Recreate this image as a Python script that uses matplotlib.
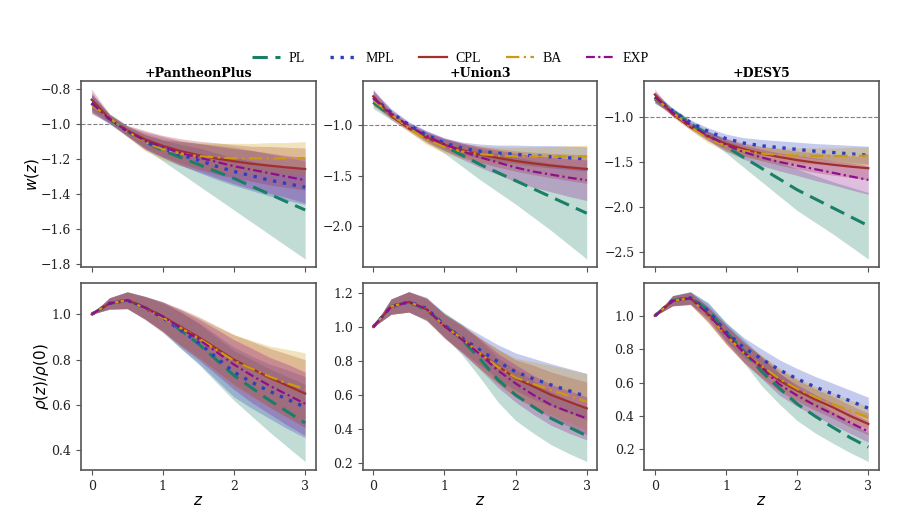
import numpy as np
import matplotlib
matplotlib.use("Agg")
import matplotlib.pyplot as plt
from matplotlib.font_manager import FontProperties

# ---------------- data ----------------
Z = [0.0, 0.25, 0.5, 0.75, 1.0, 1.25, 1.5, 1.75, 2.0, 2.25, 2.5, 2.75, 3.0]
MODELS = ["PL", "MPL", "CPL", "BA", "EXP"]
DATASETS = ["+PantheonPlus", "+Union3", "+DESY5"]

# w(z) : PantheonPlus
W_PP_PL = [-0.88, -0.97, -1.04, -1.10, -1.15, -1.19, -1.23, -1.27, -1.31, -1.355, -1.40, -1.445, -1.49]
W_PP_MPL = [-0.88, -0.97, -1.04, -1.10, -1.14, -1.175, -1.205, -1.24, -1.27, -1.295, -1.32, -1.34, -1.36]
W_PP_CPL = [-0.86, -0.966, -1.036, -1.086, -1.124, -1.153, -1.177, -1.196, -1.212, -1.226, -1.237, -1.247, -1.256]
W_PP_BA = [-0.89, -0.964, -1.042, -1.103, -1.143, -1.168, -1.182, -1.19, -1.194, -1.195, -1.195, -1.195, -1.194]
W_PP_EXP = [-0.88, -0.97, -1.04, -1.095, -1.13, -1.165, -1.19, -1.215, -1.24, -1.26, -1.28, -1.30, -1.32]
W_PP_PL_ERR = [0.05, 0.03, 0.03, 0.04, 0.06, 0.09, 0.12, 0.15, 0.18, 0.205, 0.23, 0.255, 0.28]
W_PP_MPL_ERR = [0.05, 0.025, 0.025, 0.04, 0.05, 0.06, 0.07, 0.075, 0.08, 0.085, 0.09, 0.095, 0.10]
W_PP_CPL_ERR = [0.06, 0.025, 0.03, 0.05, 0.06, 0.07, 0.08, 0.09, 0.095, 0.10, 0.11, 0.115, 0.12]
W_PP_BA_ERR = [0.05, 0.02, 0.03, 0.05, 0.06, 0.07, 0.075, 0.08, 0.085, 0.085, 0.09, 0.09, 0.095]
W_PP_EXP_ERR = [0.06, 0.025, 0.03, 0.05, 0.06, 0.07, 0.08, 0.09, 0.10, 0.11, 0.115, 0.12, 0.13]

# w(z) : Union3
W_U3_PL = [-0.78, -0.91, -1.02, -1.12, -1.21, -1.30, -1.39, -1.47, -1.55, -1.63, -1.71, -1.79, -1.87]
W_U3_MPL = [-0.73, -0.88, -1.00, -1.10, -1.18, -1.23, -1.26, -1.28, -1.29, -1.305, -1.315, -1.325, -1.335]
W_U3_CPL = [-0.72, -0.911, -1.037, -1.128, -1.197, -1.25, -1.292, -1.326, -1.356, -1.38, -1.401, -1.419, -1.435]
W_U3_BA = [-0.76, -0.895, -1.035, -1.145, -1.218, -1.263, -1.289, -1.303, -1.31, -1.313, -1.313, -1.312, -1.31]
W_U3_EXP = [-0.74, -0.89, -1.01, -1.11, -1.19, -1.26, -1.32, -1.37, -1.42, -1.46, -1.49, -1.52, -1.545]
W_U3_PL_ERR = [0.06, 0.04, 0.03, 0.05, 0.07, 0.11, 0.15, 0.19, 0.23, 0.28, 0.33, 0.39, 0.45]
W_U3_MPL_ERR = [0.07, 0.04, 0.03, 0.04, 0.05, 0.06, 0.07, 0.08, 0.09, 0.10, 0.11, 0.115, 0.12]
W_U3_CPL_ERR = [0.07, 0.04, 0.03, 0.05, 0.06, 0.07, 0.08, 0.09, 0.10, 0.11, 0.12, 0.13, 0.14]
W_U3_BA_ERR = [0.06, 0.035, 0.03, 0.05, 0.06, 0.07, 0.08, 0.085, 0.09, 0.095, 0.10, 0.105, 0.11]
W_U3_EXP_ERR = [0.07, 0.04, 0.03, 0.05, 0.06, 0.08, 0.10, 0.12, 0.14, 0.155, 0.17, 0.185, 0.20]

# w(z) : DESY5
W_D5_PL = [-0.80, -0.93, -1.07, -1.20, -1.33, -1.45, -1.57, -1.69, -1.81, -1.91, -2.01, -2.11, -2.21]
W_D5_MPL = [-0.78, -0.93, -1.06, -1.16, -1.24, -1.29, -1.32, -1.34, -1.36, -1.38, -1.395, -1.41, -1.425]
W_D5_CPL = [-0.75, -0.969, -1.114, -1.218, -1.297, -1.358, -1.406, -1.445, -1.479, -1.507, -1.531, -1.552, -1.57]
W_D5_BA = [-0.79, -0.947, -1.11, -1.238, -1.323, -1.376, -1.406, -1.422, -1.43, -1.433, -1.434, -1.432, -1.43]
W_D5_EXP = [-0.78, -0.95, -1.09, -1.21, -1.31, -1.39, -1.45, -1.50, -1.54, -1.58, -1.62, -1.66, -1.70]
W_D5_PL_ERR = [0.05, 0.03, 0.03, 0.05, 0.07, 0.11, 0.15, 0.19, 0.23, 0.26, 0.29, 0.33, 0.37]
W_D5_MPL_ERR = [0.06, 0.03, 0.03, 0.04, 0.05, 0.06, 0.07, 0.075, 0.08, 0.085, 0.09, 0.095, 0.10]
W_D5_CPL_ERR = [0.06, 0.03, 0.03, 0.05, 0.06, 0.07, 0.08, 0.09, 0.10, 0.11, 0.115, 0.12, 0.13]
W_D5_BA_ERR = [0.05, 0.03, 0.03, 0.05, 0.06, 0.07, 0.075, 0.08, 0.085, 0.09, 0.09, 0.095, 0.10]
W_D5_EXP_ERR = [0.06, 0.03, 0.03, 0.05, 0.07, 0.08, 0.09, 0.10, 0.11, 0.125, 0.135, 0.15, 0.16]

# rho(z)/rho(0) : PantheonPlus
R_PP_PL = [1.0, 1.048, 1.062, 1.03, 0.99, 0.93, 0.87, 0.80, 0.73, 0.675, 0.62, 0.57, 0.52]
R_PP_MPL = [1.0, 1.048, 1.062, 1.028, 0.985, 0.93, 0.875, 0.81, 0.745, 0.70, 0.66, 0.625, 0.59]
R_PP_CPL = [1.0, 1.048, 1.063, 1.03, 0.99, 0.945, 0.90, 0.85, 0.80, 0.76, 0.72, 0.685, 0.65]
R_PP_BA = [1.0, 1.048, 1.062, 1.026, 0.985, 0.94, 0.895, 0.845, 0.795, 0.76, 0.725, 0.695, 0.67]
R_PP_EXP = [1.0, 1.048, 1.062, 1.028, 0.99, 0.94, 0.89, 0.835, 0.778, 0.73, 0.685, 0.645, 0.605]
R_PP_PL_ERR = [0.0, 0.025, 0.037, 0.05, 0.065, 0.08, 0.09, 0.10, 0.11, 0.125, 0.14, 0.155, 0.17]
R_PP_MPL_ERR = [0.0, 0.025, 0.037, 0.05, 0.065, 0.08, 0.09, 0.10, 0.11, 0.115, 0.12, 0.13, 0.135]
R_PP_CPL_ERR = [0.0, 0.025, 0.037, 0.05, 0.065, 0.08, 0.09, 0.10, 0.11, 0.12, 0.13, 0.14, 0.15]
R_PP_BA_ERR = [0.0, 0.025, 0.037, 0.05, 0.065, 0.08, 0.09, 0.10, 0.115, 0.125, 0.135, 0.15, 0.16]
R_PP_EXP_ERR = [0.0, 0.025, 0.037, 0.05, 0.065, 0.08, 0.09, 0.10, 0.11, 0.12, 0.125, 0.135, 0.14]

# rho(z)/rho(0) : Union3
R_U3_PL = [1.0, 1.12, 1.148, 1.10, 1.015, 0.925, 0.812, 0.69, 0.60, 0.53, 0.462, 0.41, 0.36]
R_U3_MPL = [1.0, 1.12, 1.148, 1.11, 1.01, 0.935, 0.865, 0.796, 0.737, 0.695, 0.659, 0.625, 0.59]
R_U3_CPL = [1.0, 1.12, 1.148, 1.105, 1.005, 0.93, 0.845, 0.77, 0.698, 0.65, 0.60, 0.56, 0.521]
R_U3_BA = [1.0, 1.12, 1.148, 1.105, 1.005, 0.93, 0.845, 0.766, 0.702, 0.665, 0.629, 0.595, 0.56]
R_U3_EXP = [1.0, 1.12, 1.148, 1.105, 1.005, 0.925, 0.84, 0.745, 0.668, 0.60, 0.541, 0.50, 0.462]
R_U3_PL_ERR = [0.0, 0.045, 0.06, 0.065, 0.07, 0.09, 0.11, 0.13, 0.15, 0.155, 0.155, 0.155, 0.152]
R_U3_MPL_ERR = [0.0, 0.045, 0.06, 0.065, 0.07, 0.08, 0.09, 0.10, 0.11, 0.12, 0.125, 0.13, 0.137]
R_U3_CPL_ERR = [0.0, 0.045, 0.06, 0.065, 0.07, 0.08, 0.09, 0.10, 0.11, 0.125, 0.135, 0.145, 0.155]
R_U3_BA_ERR = [0.0, 0.045, 0.06, 0.065, 0.07, 0.08, 0.09, 0.10, 0.115, 0.13, 0.145, 0.155, 0.165]
R_U3_EXP_ERR = [0.0, 0.045, 0.06, 0.065, 0.07, 0.08, 0.09, 0.10, 0.11, 0.115, 0.12, 0.125, 0.127]

# rho(z)/rho(0) : DESY5
R_D5_PL = [1.0, 1.092, 1.108, 1.035, 0.905, 0.79, 0.667, 0.567, 0.473, 0.40, 0.333, 0.27, 0.214]
R_D5_MPL = [1.0, 1.092, 1.108, 1.03, 0.905, 0.81, 0.742, 0.677, 0.623, 0.575, 0.533, 0.49, 0.447]
R_D5_CPL = [1.0, 1.09, 1.105, 1.01, 0.89, 0.785, 0.695, 0.613, 0.553, 0.50, 0.453, 0.40, 0.353]
R_D5_BA = [1.0, 1.09, 1.105, 1.0, 0.883, 0.78, 0.70, 0.623, 0.563, 0.515, 0.473, 0.43, 0.393]
R_D5_EXP = [1.0, 1.09, 1.105, 1.01, 0.89, 0.78, 0.69, 0.59, 0.523, 0.465, 0.413, 0.36, 0.308]
R_D5_PL_ERR = [0.0, 0.03, 0.037, 0.045, 0.055, 0.07, 0.085, 0.095, 0.10, 0.10, 0.095, 0.09, 0.086]
R_D5_MPL_ERR = [0.0, 0.03, 0.037, 0.045, 0.055, 0.06, 0.06, 0.06, 0.062, 0.063, 0.064, 0.065, 0.066]
R_D5_CPL_ERR = [0.0, 0.03, 0.037, 0.045, 0.055, 0.06, 0.065, 0.065, 0.065, 0.065, 0.065, 0.065, 0.065]
R_D5_BA_ERR = [0.0, 0.03, 0.037, 0.045, 0.055, 0.06, 0.065, 0.065, 0.065, 0.065, 0.065, 0.065, 0.065]
R_D5_EXP_ERR = [0.0, 0.03, 0.037, 0.045, 0.055, 0.06, 0.065, 0.065, 0.065, 0.065, 0.065, 0.065, 0.064]

W_DATA = [
    [(W_PP_PL, W_PP_PL_ERR), (W_PP_MPL, W_PP_MPL_ERR), (W_PP_CPL, W_PP_CPL_ERR), (W_PP_BA, W_PP_BA_ERR), (W_PP_EXP, W_PP_EXP_ERR)],
    [(W_U3_PL, W_U3_PL_ERR), (W_U3_MPL, W_U3_MPL_ERR), (W_U3_CPL, W_U3_CPL_ERR), (W_U3_BA, W_U3_BA_ERR), (W_U3_EXP, W_U3_EXP_ERR)],
    [(W_D5_PL, W_D5_PL_ERR), (W_D5_MPL, W_D5_MPL_ERR), (W_D5_CPL, W_D5_CPL_ERR), (W_D5_BA, W_D5_BA_ERR), (W_D5_EXP, W_D5_EXP_ERR)],
]
R_DATA = [
    [(R_PP_PL, R_PP_PL_ERR), (R_PP_MPL, R_PP_MPL_ERR), (R_PP_CPL, R_PP_CPL_ERR), (R_PP_BA, R_PP_BA_ERR), (R_PP_EXP, R_PP_EXP_ERR)],
    [(R_U3_PL, R_U3_PL_ERR), (R_U3_MPL, R_U3_MPL_ERR), (R_U3_CPL, R_U3_CPL_ERR), (R_U3_BA, R_U3_BA_ERR), (R_U3_EXP, R_U3_EXP_ERR)],
    [(R_D5_PL, R_D5_PL_ERR), (R_D5_MPL, R_D5_MPL_ERR), (R_D5_CPL, R_D5_CPL_ERR), (R_D5_BA, R_D5_BA_ERR), (R_D5_EXP, R_D5_EXP_ERR)],
]

# ---------------- style ----------------
COLORS = ["#1a7f66", "#2b3fc0", "#a0302c", "#cc9a10", "#8e0f8e"]
STYLES = [(0, (5, 2.5)), (0, (1, 2)), "-", (0, (6, 2, 1, 2)), (0, (4, 1.5, 1, 1.5))]
WIDTHS = [2.2, 2.4, 1.6, 1.6, 1.6]

plt.rcParams["font.family"] = "DejaVu Serif"
plt.rcParams["mathtext.fontset"] = "dejavusans"

fig, axes = plt.subplots(2, 3, figsize=(9.12, 5.09), dpi=100, sharex=True)
fig.subplots_adjust(left=0.0888, right=0.9638, top=0.8415, bottom=0.0766,
                    wspace=0.199, hspace=0.084)

z = np.array(Z)
for col in range(3):
    for row, data in enumerate([W_DATA, R_DATA]):
        ax = axes[row, col]
        for i, (mean, err) in enumerate(data[col]):
            m = np.array(mean)
            e = np.array(err)
            ax.fill_between(z, m - e, m + e, color=COLORS[i], alpha=0.27, lw=0)
        for i, (mean, err) in enumerate(data[col]):
            ax.plot(z, mean, color=COLORS[i], ls=STYLES[i], lw=WIDTHS[i],
                    label=MODELS[i] if (row == 0 and col == 0) else None)
        if row == 0:
            ax.axhline(-1.0, color="gray", ls="--", lw=0.8)
            ax.set_title(DATASETS[col], fontsize=9, fontweight="bold", pad=3)
        else:
            ax.set_xlabel("$z$", fontsize=11, labelpad=1)
        for sp in ax.spines.values():
            sp.set_color("#555555")
            sp.set_linewidth(1.2)
        ax.tick_params(colors="#555555", labelcolor="#222222", labelsize=9, length=3.5)
        ax.set_xticks([0, 1, 2, 3])

axes[0, 0].set_yticks([-0.8, -1.0, -1.2, -1.4, -1.6, -1.8])
axes[0, 1].set_yticks([-1.0, -1.5, -2.0])
axes[0, 2].set_yticks([-1.0, -1.5, -2.0, -2.5])
axes[1, 0].set_yticks([0.4, 0.6, 0.8, 1.0])
axes[1, 1].set_yticks([0.2, 0.4, 0.6, 0.8, 1.0, 1.2])
axes[1, 2].set_yticks([0.2, 0.4, 0.6, 0.8, 1.0])

axes[0, 0].set_ylabel("$w(z)$", fontsize=11, labelpad=0)
axes[1, 0].set_ylabel(r"$\rho(z)/\rho(0)$", fontsize=11, labelpad=0)

handles, labels = axes[0, 0].get_legend_handles_labels()
fig.legend(handles, labels, loc="center", bbox_to_anchor=(0.494, 0.886), ncol=5,
           frameon=False, prop=FontProperties(family="Liberation Serif", size=10),
           handlelength=2.0, columnspacing=1.8, handletextpad=0.6)

fig.savefig("out.png", dpi=100)
